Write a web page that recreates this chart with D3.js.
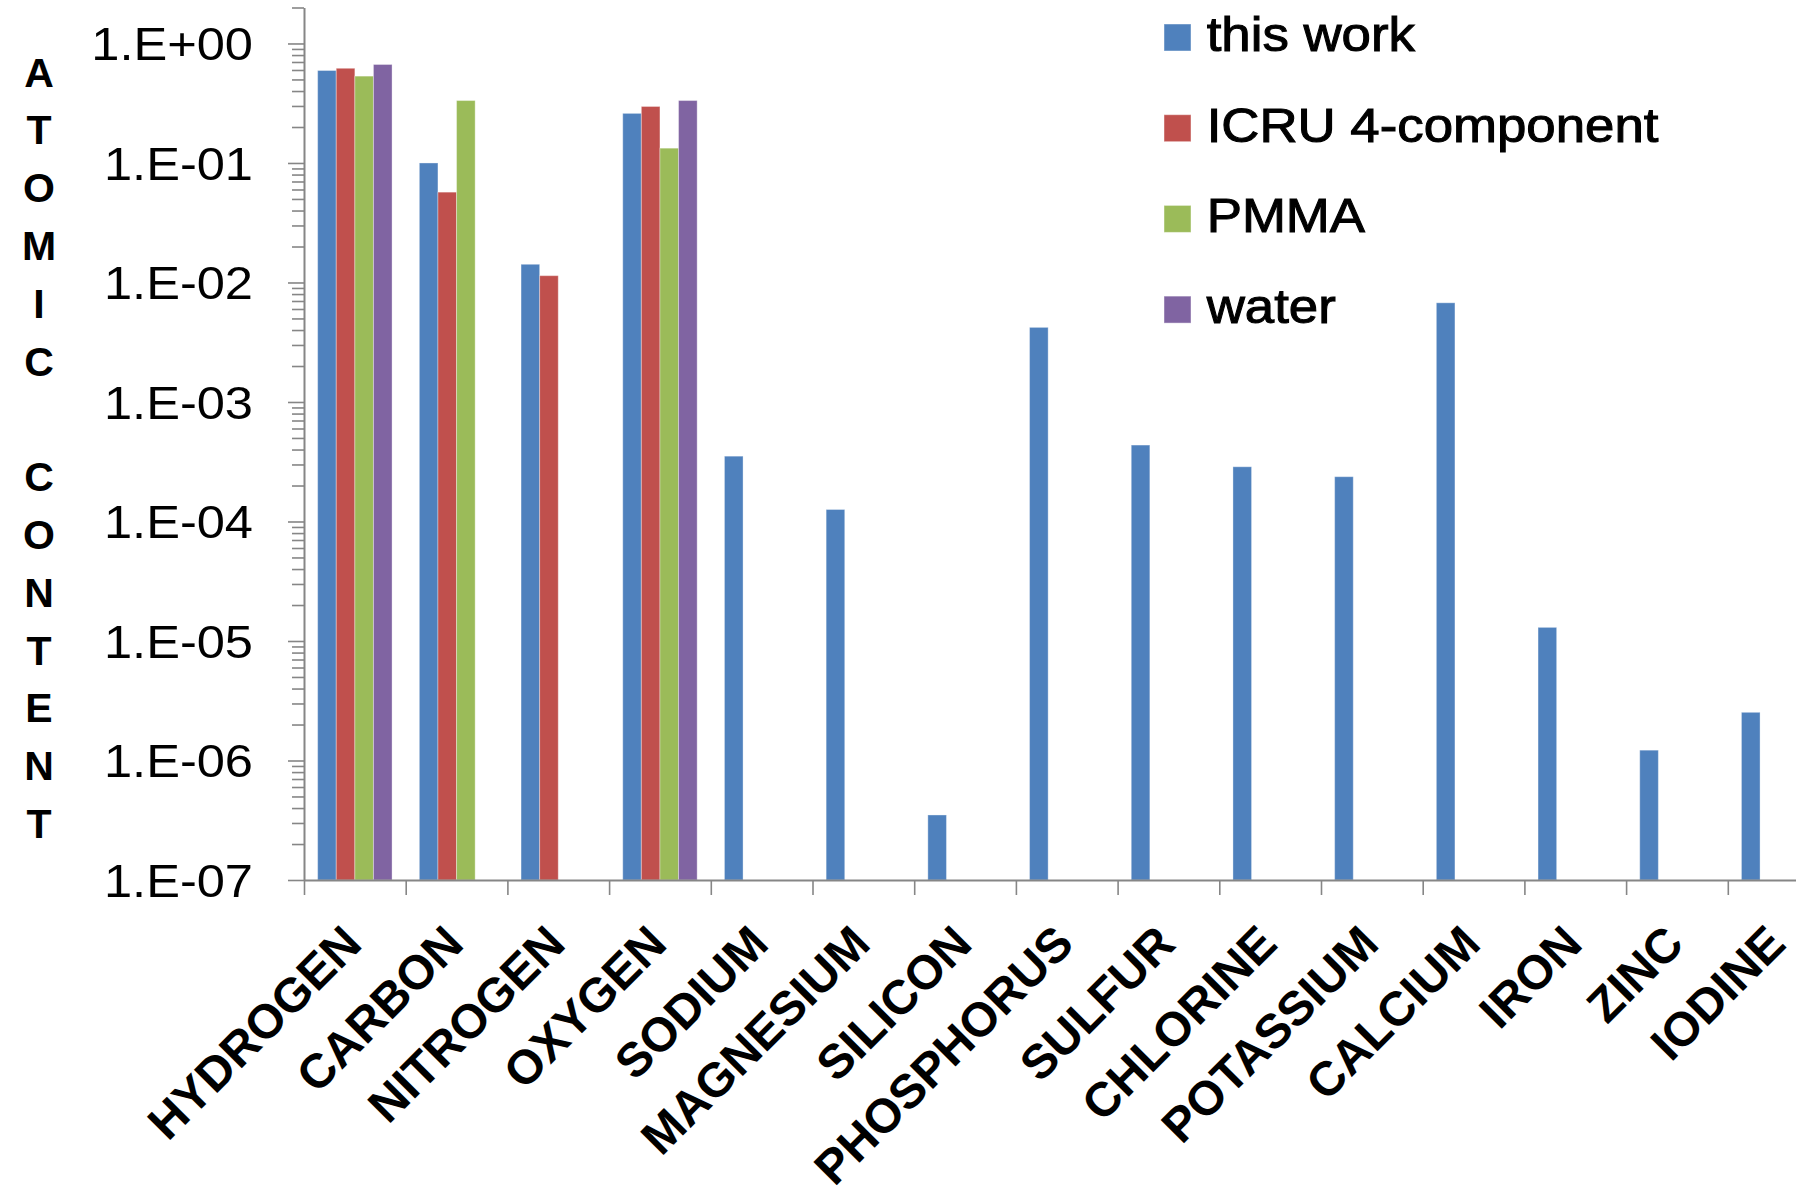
<!DOCTYPE html>
<html>
<head>
<meta charset="utf-8">
<script src="https://cdn.jsdelivr.net/npm/d3@7"></script>
<style>
  html, body { margin: 0; padding: 0; background: #ffffff; }
  svg { display: block; }
  text { font-family: "Liberation Sans", Arial, sans-serif; fill: #000; }
</style>
</head>
<body>
<svg id="chart" width="1796" height="1197"></svg>
<script>
// ---------- data ----------
const categories = ["HYDROGEN", "CARBON", "NITROGEN", "OXYGEN", "SODIUM", "MAGNESIUM", "SILICON",
  "PHOSPHORUS", "SULFUR", "CHLORINE", "POTASSIUM", "CALCIUM", "IRON", "ZINC", "IODINE"];
const seriesNames = ["this work", "ICRU 4-component", "PMMA", "water"];
const thisWork = [0.594, 0.100, 0.0142, 0.260, 3.52e-4, 1.26e-4, 3.5e-7, 4.21e-3, 4.36e-4,
  2.87e-4, 2.37e-4, 6.76e-3, 1.30e-5, 1.22e-6, 2.53e-6];
const icru = [0.62, 0.057, 0.0114, 0.297, null, null, null, null, null, null, null, null, null, null, null];
const pmma = [0.533, 0.333, null, 0.133, null, null, null, null, null, null, null, null, null, null, null];
const water = [0.667, null, null, 0.333, null, null, null, null, null, null, null, null, null, null, null];
const majorTicks = [1e-7, 1e-6, 1e-5, 1e-4, 1e-3, 1e-2, 1e-1, 1];
const tickLabels = ["1.E-07", "1.E-06", "1.E-05", "1.E-04", "1.E-03", "1.E-02", "1.E-01", "1.E+00"];
const yTitle = "ATOMIC CONTENT";
const colors = ["#4F81BD", "#C0504D", "#9BBB59", "#8064A2"];

// ---------- layout ----------
const svg = d3.select("#chart");
const axisColor = "#868686";
const x0 = 304, x1 = 1829.5;      // category axis extends past the right edge
const yBottom = 880, yTop = 7.5;

const y = d3.scaleLog().domain([1e-7, 2]).range([yBottom, yTop]);
const x = d3.scaleBand().domain(categories).range([x0, x1])
  .paddingInner(0.2684).paddingOuter(0.1342);
const xs = d3.scaleBand().domain(seriesNames).range([0, x.bandwidth()]);
const xIdx = d3.scaleLinear().domain([0, categories.length]).range([x0, x1]);

const series = [thisWork, icru, pmma, water];

// ---------- bars ----------
const barG = svg.append("g");
series.forEach((vals, si) => {
  barG.selectAll(null)
    .data(vals.map((v, i) => ({ v, c: categories[i] })).filter(d => d.v != null))
    .join("rect")
    .attr("x", d => x(d.c) + xs(seriesNames[si]))
    .attr("width", xs.bandwidth())
    .attr("y", d => y(d.v))
    .attr("height", d => yBottom - y(d.v))
    .attr("fill", colors[si])
    .attr("stroke", "rgba(255,255,255,0.35)")
    .attr("stroke-width", 1);
});

// ---------- y axis ----------
const minorTicks = [];
for (let k = -7; k <= -1; k++) for (let m = 2; m <= 9; m++) minorTicks.push(m * Math.pow(10, k));
minorTicks.push(2);

const yMinor = svg.append("g").attr("transform", `translate(${x0},0)`)
  .call(d3.axisLeft(y).tickValues(minorTicks).tickSize(12).tickFormat(""));
yMinor.select(".domain").remove();

const yAxis = svg.append("g").attr("transform", `translate(${x0},0)`)
  .call(d3.axisLeft(y).tickValues(majorTicks).tickSize(16).tickSizeOuter(0)
    .tickFormat((d, i) => tickLabels[i]));
yAxis.selectAll("text")
  .attr("x", 0).attr("dy", "0.358em")
  .attr("transform", "translate(-51,0) scale(1.1,1)")
  .style("font-size", "46px").style("font-family", "Liberation Sans, Arial, sans-serif")
  .attr("fill", "#000");

[yMinor, yAxis].forEach(g => {
  g.selectAll("line").attr("stroke", axisColor).attr("stroke-width", 1.6);
  g.selectAll(".domain").attr("stroke", axisColor).attr("stroke-width", 2);
});

// ---------- x axis ----------
const xAxis = svg.append("g").attr("transform", `translate(0,${yBottom})`)
  .call(d3.axisBottom(xIdx).tickValues(d3.range(categories.length + 1)).tickSize(15)
    .tickSizeOuter(0).tickFormat(""));
xAxis.selectAll("line").attr("stroke", axisColor).attr("stroke-width", 1.6);
xAxis.select(".domain").attr("stroke", axisColor).attr("stroke-width", 2);

svg.append("g").selectAll("text").data(categories).join("text")
  .attr("transform", d => `translate(${x(d) + x.bandwidth() / 2 - 3},934) rotate(-45)`)
  .attr("text-anchor", "end")
  .attr("dy", "0.358em")
  .style("font-size", "48px").style("font-weight", "bold")
  .text(d => d);

// ---------- y title (stacked letters) ----------
svg.append("g").selectAll("text")
  .data(yTitle.split("").map((ch, i) => ({ ch, i })).filter(d => d.ch !== " "))
  .join("text")
  .attr("x", 39).attr("y", d => 72 + d.i * 57.8)
  .attr("dy", "0.358em")
  .attr("text-anchor", "middle")
  .style("font-size", "41px").style("font-weight", "bold")
  .text(d => d.ch);

// ---------- legend ----------
const leg = svg.append("g").selectAll("g").data(seriesNames).join("g")
  .attr("transform", (d, i) => `translate(1164,${24 + i * 90.7})`);
leg.append("rect").attr("width", 27).attr("height", 27)
  .attr("fill", (d, i) => colors[i]).attr("stroke", "rgba(255,255,255,0.45)").attr("stroke-width", 1);
leg.append("text")
  .attr("transform", "translate(42.7,27) scale(1.1,1)")
  .style("font-size", "48px")
  .attr("stroke", "#000").attr("stroke-width", 1)
  .text(d => d);
</script>
</body>
</html>
